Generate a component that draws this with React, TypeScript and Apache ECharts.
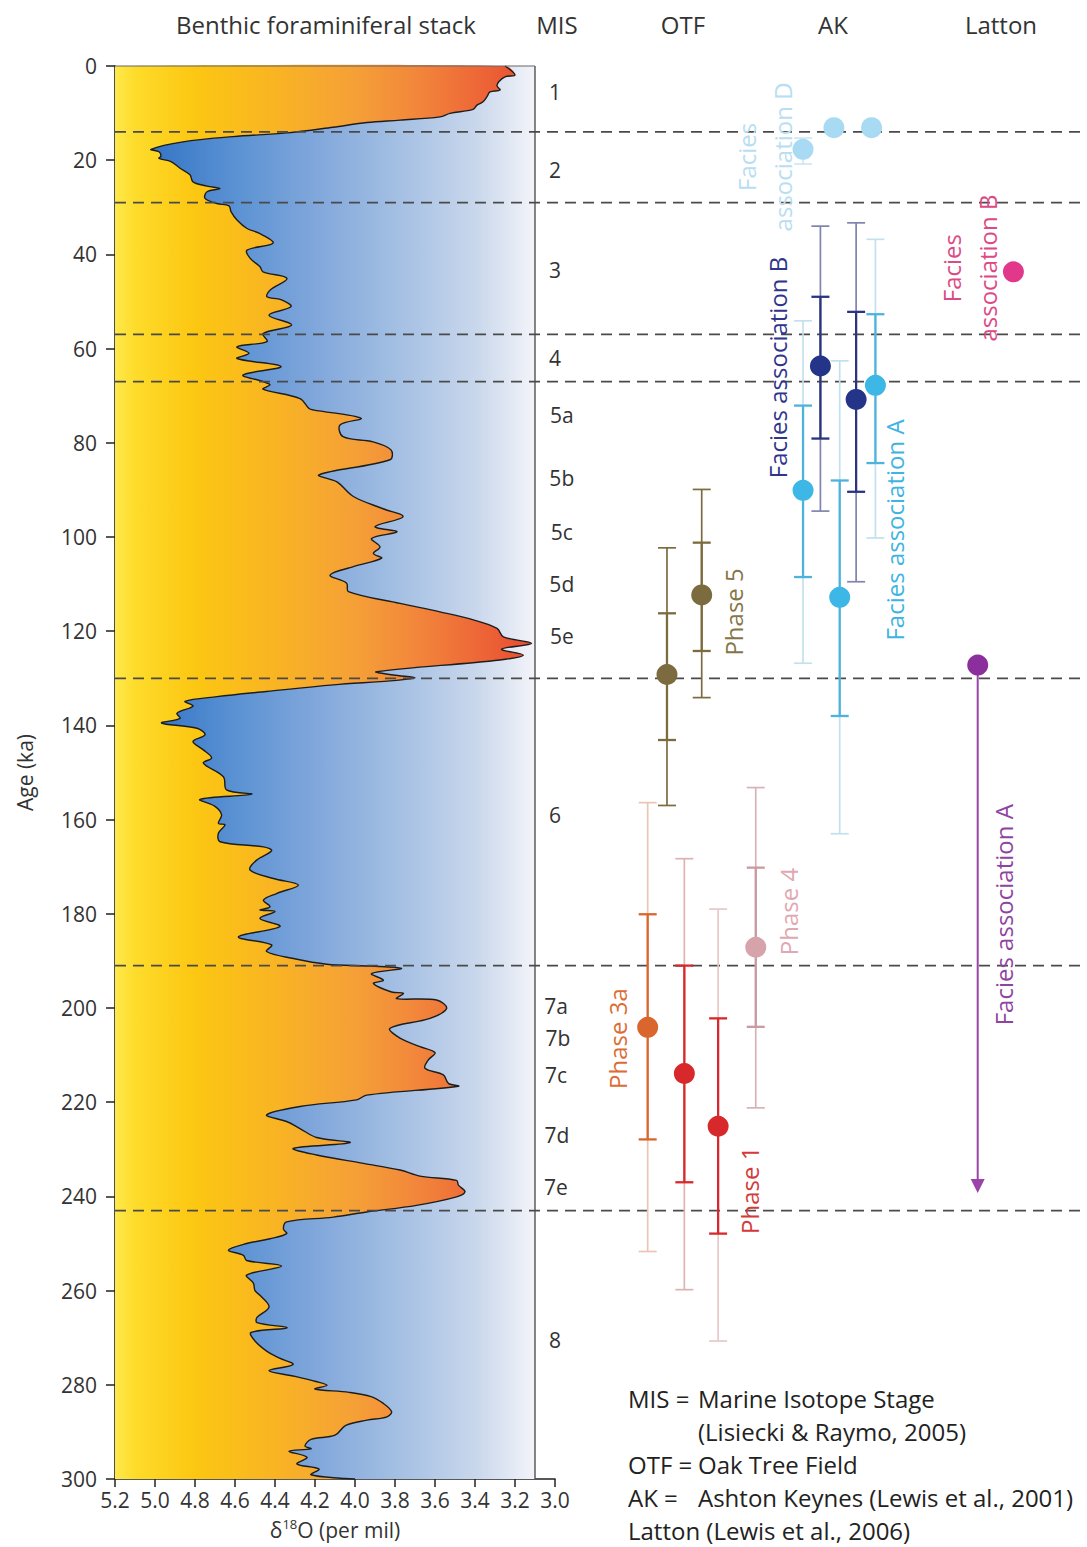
import React, { useEffect, useRef } from "react";
import * as echarts from "echarts";

const F = "'Open Sans', 'Noto Sans', 'DejaVu Sans', sans-serif";

// ---- Benthic foraminiferal stack (LR04 style), age in ka vs d18O ----
const curveAge = [0,1.9,2.3,3.3,4.2,5.1,5.5,6.5,7.6,8.3,9.2,10.05,10.8,11.5,12,13,14.2,15,16.1,17.7,18.2,19.1,19.6,20.3,21.7,23.1,24.6,25.5,26,26.7,28.1,29.2,29.7,30.9,32.7,34.5,35.5,37.6,39.1,40.8,42.6,43.7,45.1,47.6,49,49.6,51.1,52.9,55,56.8,58.5,59.6,61,62.1,63.8,65.6,67,67.7,68.6,70.6,72.7,73,74.8,76.2,78.7,79.8,81.5,83.6,86.8,88.3,91.4,94,95.7,97.8,98.9,100.3,102.1,103.5,104.5,106.3,108.1,109.8,111.6,114.1,115.9,117.6,119.4,121.2,122.6,123.8,125.1,126.1,128.6,129.3,129.9,130.5,131.4,132.8,133.9,134.9,135.9,137.4,138.5,139.5,140.6,142,143.4,145.2,146.9,148,150.9,153.7,154.6,155.7,157.2,159,160.8,161.1,162.9,164.7,165.8,166.6,168.6,170.7,172.5,173.9,175.7,177.1,178.5,179.2,179.5,181,182.7,184.9,186.6,188,189.5,190.7,191.1,191.6,192.7,194.1,194.8,196.6,196.9,198,198.3,200.1,202.2,204.3,206.4,208.2,209.5,211,212.8,214.2,216,216.6,218.5,219.5,220.9,222.7,224.1,225.6,227.5,228.6,229.8,231.2,233,234.4,235.7,236.6,237.6,239,240.1,241.9,243.3,244.4,245.4,246.9,247.9,249,250,251.4,252.5,253.6,254.8,256.7,258.4,260,261.2,263.5,265.7,266.8,267.9,268.9,270.7,272.9,274.3,275.7,277,278.2,279.3,280.1,280.9,281.6,282.5,283.9,285.7,286.8,287.5,288.6,290.7,291.6,293,293.6,294.1,295.4,296.8,297.9,299.1,299.9,300];
const curveD18O = [3.25,3.2,3.25,3.28,3.29,3.275,3.325,3.34,3.36,3.39,3.41,3.525,3.575,3.775,3.94,4.11,4.34,4.61,4.86,5.02,4.98,4.97,4.98,4.92,4.875,4.825,4.81,4.74,4.675,4.74,4.75,4.69,4.63,4.62,4.59,4.54,4.48,4.41,4.54,4.525,4.475,4.46,4.34,4.425,4.44,4.37,4.32,4.43,4.317,4.46,4.44,4.59,4.53,4.59,4.37,4.56,4.46,4.425,4.46,4.275,4.23,4.21,3.97,4.075,4.06,3.91,3.82,3.825,4.18,4.09,4.008,3.86,3.76,3.9,3.79,3.917,3.875,3.908,3.867,4.008,4.125,4.042,4.033,3.775,3.575,3.408,3.29,3.258,3.117,3.267,3.158,3.275,3.892,3.808,3.7,3.808,4.108,4.442,4.69,4.85,4.81,4.89,4.875,4.967,4.79,4.75,4.81,4.758,4.717,4.758,4.658,4.642,4.517,4.775,4.7,4.667,4.683,4.65,4.683,4.675,4.458,4.417,4.492,4.525,4.408,4.283,4.392,4.458,4.425,4.475,4.4,4.475,4.375,4.583,4.417,4.442,4.308,4.142,3.925,3.767,3.917,3.858,3.908,3.817,3.758,3.792,3.592,3.542,3.625,3.825,3.775,3.675,3.6,3.633,3.65,3.558,3.533,3.483,3.942,3.992,4.275,4.442,4.342,4.275,4.192,4.025,4.308,4.192,3.958,3.775,3.675,3.492,3.483,3.45,3.492,3.692,3.942,4.108,4.342,4.358,4.342,4.425,4.542,4.633,4.558,4.542,4.367,4.542,4.508,4.5,4.47,4.43,4.49,4.49,4.34,4.52,4.5,4.44,4.38,4.31,4.43,4.3,4.196,4.14,4.2,4.03,3.92,3.86,3.817,3.84,3.94,4.046,4.1,4.22,4.25,4.22,4.33,4.24,4.29,4.18,4.22,4.05,4.0];

// ---- Marine isotope stages ----
const misBoundaryAges = [14, 29, 57, 67, 130, 191, 243];
const misStageLabels = ["1","2","3","4","5a","5b","5c","5d","5e","6","7a","7b","7c","7d","7e","8"];
const misStageAges = [5.5, 22, 43.3, 62, 74, 87.5, 99, 110, 121, 159, 199.5, 206.3, 214.2, 227, 238, 270.5];
const misStageLanes = [45.6,45.6,45.6,45.6,46.3,46.3,46.3,46.3,46.3,45.6,45.7,45.9,45.7,45.8,45.7,45.6];

// ---- Dated samples (lane = horizontal slot in the right-hand panel, 0-100) ----
// 0-5 OTF (Phase 5, Phase 5, Phase 3a, Phase 1 group, Phase 1, Phase 4)
// 6-13 AK (association B x2, association A x3, association D x3)
// 14-15 Latton (association B, association A)
const sampleLane = [57.2, 60.8, 55.2, 59.0, 62.5, 66.4, 73.1, 76.8, 78.8, 71.3, 75.1, 71.3, 74.5, 78.4, 93.1, 89.4];
const sampleAge = [129.2, 112.3, 204.1, 213.9, 225.1, 187.1, 63.7, 70.8, 67.8, 90.1, 112.8, 17.7, 13.1, 13.1, 43.7, 127.2];
const innerLow = [116.2, 101.2, 180.1, 191.0, 202.2, 170.2, 49.0, 52.2, 52.7, 72.1, 88.0, null, null, null, null, null];
const innerHigh = [143.1, 124.2, 227.9, 237.0, 247.9, 204.0, 79.1, 90.4, 84.3, 108.5, 138.0, null, null, null, null, null];
const outerLow = [102.3, 89.9, 156.4, 168.3, 179.0, 153.2, 34.0, 33.3, 36.8, 54.1, 62.6, 15.3, null, null, null, null];
const outerHigh = [157.0, 134.1, 251.7, 259.8, 270.7, 221.2, 94.5, 109.5, 100.2, 126.8, 163.0, 20.8, null, null, null, null];

// Latton association A: open-ended range (arrow)
const rangeLane = [89.4];
const rangeFrom = [127.2];
const rangeTo = [239.3];

// ---- Annotation labels (rotated) ----
const noteText = ["Phase 5", "Phase 3a", "Phase 4", "Phase 1", "Facies association B", "Facies association A", "Facies\nassociation D", "Facies\nassociation B", "Facies association A"];
const noteLane = [64.1, 52.1, 69.8, 65.8, 68.7, 80.8, 67.3, 88.5, 92.1];
const noteAge = [115.9, 206.5, 179.5, 238.7, 64.0, 98.5, 19.3, 42.9, 180.2];

// ---- Styles ----
const pointColor = ["#7b6b3e","#7b6b3e","#d9662c","#d7282b","#d7282b","#d6a3ab","#243489","#243489","#3db7e5","#3db7e5","#3db7e5","#a9daf3","#a9daf3","#a9daf3","#e2388b","#8b2f9c"];
const innerColor = ["#7b6b3e","#7b6b3e","#d9662c","#d7282b","#d7282b","#c99aa2","#2a3480","#2a3480","#4eb3dc","#4eb3dc","#4eb3dc","#cfe7f3","#cfe7f3","#cfe7f3","#e2388b","#8b2f9c"];
const outerColor = ["#7b6b3e","#7b6b3e","#ebc5b4","#dfb2b2","#e8c8c8","#d8b2b8","#7e84ad","#7e84ad","#c3e0ee","#c3e0ee","#c3e0ee","#cfe7f3","#cfe7f3","#cfe7f3","#e2388b","#8b2f9c"];
const noteColor = ["#857547","#dc6c34","#e0a8b2","#d43a3a","#2f348c","#3fb4e2","#b8def2","#dc4a86","#8f45a0"];

const warmStops = [
  { offset: 0, color: "#fee94a" },
  { offset: 0.05, color: "#fedb2a" },
  { offset: 0.19, color: "#fcc712" },
  { offset: 0.38, color: "#f9b423" },
  { offset: 0.57, color: "#f5a037" },
  { offset: 0.71, color: "#f2883b" },
  { offset: 0.86, color: "#ee6837" },
  { offset: 1, color: "#e74a2f" },
];
const coolStops = [
  { offset: 0, color: "#2f6fc2" },
  { offset: 0.1, color: "#3777c7" },
  { offset: 0.29, color: "#5b92d3" },
  { offset: 0.48, color: "#81a7db" },
  { offset: 0.67, color: "#a3bfe3" },
  { offset: 0.86, color: "#c9d7ec" },
  { offset: 1, color: "#f3f4f9" },
];

const columnTitles = ["Benthic foraminiferal stack", "MIS", "OTF", "AK", "Latton"];
const columnTitleX = [326, 557, 683, 833, 1001];

const SMOOTH = 0.35;

function buildBars(lows: any[], highs: any[], colors: string[], width: number, z: number) {
  const data: number[][] = [];
  sampleLane.forEach((l, i) => {
    if (lows[i] != null && highs[i] != null) data.push([l, lows[i], highs[i], i]);
  });
  return {
    type: "custom",
    xAxisIndex: 1,
    yAxisIndex: 1,
    z,
    silent: true,
    data,
    renderItem: (params: any, api: any) => {
      const lane = api.value(0);
      const lo = api.value(1);
      const hi = api.value(2);
      const idx = api.value(3);
      const p1 = api.coord([lane, lo]);
      const p2 = api.coord([lane, hi]);
      const c = 9;
      const st = { stroke: colors[idx], lineWidth: width };
      return {
        type: "group",
        children: [
          { type: "line", shape: { x1: p1[0], y1: p1[1], x2: p2[0], y2: p2[1] }, style: st },
          { type: "line", shape: { x1: p1[0] - c, y1: p1[1], x2: p1[0] + c, y2: p1[1] }, style: st },
          { type: "line", shape: { x1: p2[0] - c, y1: p2[1], x2: p2[0] + c, y2: p2[1] }, style: st },
        ],
      };
    },
  };
}

export default function App() {
  const ref = useRef<HTMLDivElement>(null);
  useEffect(() => {
    document.body.style.margin = "0";
    if (!ref.current) return;
    const chart = echarts.init(ref.current, undefined, { renderer: "svg" });

    const option: any = {
      animation: false,
      backgroundColor: "#ffffff",
      textStyle: { fontFamily: F },
      grid: [
        { left: 115, right: 532, top: 66, bottom: 68 },
        { left: 115, right: 7, top: 66, bottom: 68 },
      ],
      xAxis: [
        {
          gridIndex: 0,
          type: "value",
          min: 3.0,
          max: 5.2,
          interval: 0.2,
          inverse: true,
          axisLine: { show: true, onZero: false, lineStyle: { color: "#222", width: 1.6 } },
          axisTick: { show: true, length: 8, lineStyle: { color: "#222", width: 1.5 } },
          axisLabel: { fontSize: 21, color: "#333", margin: 10, fontFamily: F, formatter: (v: number) => v.toFixed(1) },
          splitLine: { show: false },
          name: "{n|δ}{s|18}{n|O (per mil)}",
          nameLocation: "middle",
          nameGap: 38,
          nameTextStyle: {
            rich: {
              n: { fontSize: 21, color: "#333", fontFamily: F, lineHeight: 26 },
              s: { fontSize: 13, color: "#333", fontFamily: F, verticalAlign: "top", lineHeight: 16 },
            },
          },
        },
        { gridIndex: 1, type: "value", min: 0, max: 100, show: false },
      ],
      yAxis: [
        {
          gridIndex: 0,
          type: "value",
          min: 0,
          max: 300,
          interval: 20,
          inverse: true,
          axisLine: { show: true, onZero: false, lineStyle: { color: "#222", width: 1.6 } },
          axisTick: { show: true, length: 9, lineStyle: { color: "#222", width: 1.5 } },
          axisLabel: { fontSize: 21, color: "#333", margin: 18, fontFamily: F },
          splitLine: { show: false },
          name: "Age (ka)",
          nameLocation: "middle",
          nameRotate: 90,
          nameGap: 80,
          nameTextStyle: { fontSize: 21, color: "#333", fontFamily: F },
        },
        { gridIndex: 1, type: "value", min: 0, max: 300, inverse: true, show: false },
      ],
      graphic: [
        ...columnTitles.map((t, i) => ({
          type: "text",
          x: columnTitleX[i],
          y: 24,
          style: { text: t, fill: "#333", fontSize: 24, fontFamily: F, align: "center", verticalAlign: "middle" },
        })),
        ...[
          ["MIS =", 628, 1398],
          ["Marine Isotope Stage", 698, 1398],
          ["(Lisiecki & Raymo, 2005)", 698, 1431],
          ["OTF =", 628, 1464],
          ["Oak Tree Field", 698, 1464],
          ["AK =", 628, 1497],
          ["Ashton Keynes (Lewis et al., 2001)", 698, 1497],
          ["Latton (Lewis et al., 2006)", 628, 1530],
        ].map((r: any) => ({
          type: "text",
          x: r[1],
          y: r[2],
          style: { text: r[0], fill: "#222", fontSize: 24, fontFamily: F, align: "left", verticalAlign: "middle" },
        })),
      ],
      series: [
        // stack fill + curve
        {
          type: "custom",
          xAxisIndex: 0,
          yAxisIndex: 0,
          z: 1,
          silent: true,
          data: [[4.2, 150]],
          renderItem: (params: any, api: any) => {
            const pts = curveAge.map((a, i) => api.coord([curveD18O[i], a]));
            const tl = api.coord([5.2, 0]);
            const bl = api.coord([5.2, 300]);
            const tr = api.coord([3.1, 0]);
            const br = api.coord([3.1, 300]);
            const warm = new echarts.graphic.LinearGradient(tl[0], 0, tr[0], 0, warmStops, true);
            const cool = new echarts.graphic.LinearGradient(tl[0], 0, tr[0], 0, coolStops, true);
            return {
              type: "group",
              children: [
                { type: "polygon", shape: { points: [tl, tr, br, bl] }, style: { fill: cool } },
                { type: "polyline", shape: { points: [tl, ...pts, bl], smooth: SMOOTH }, style: { fill: warm, stroke: null } },
                { type: "polyline", shape: { points: pts, smooth: SMOOTH }, style: { stroke: "#1d1d1d", lineWidth: 1.4, fill: null } },
                { type: "line", shape: { x1: tr[0], y1: tr[1], x2: br[0], y2: br[1] }, style: { stroke: "#444", lineWidth: 1.3 } },
                { type: "line", shape: { x1: tl[0], y1: tl[1], x2: tr[0], y2: tr[1] }, style: { stroke: "#666", lineWidth: 1 } },
              ],
            };
          },
        },
        // MIS boundaries (dashed)
        {
          type: "custom",
          xAxisIndex: 1,
          yAxisIndex: 1,
          z: 4,
          silent: true,
          data: misBoundaryAges.map((a) => [0, a]),
          renderItem: (params: any, api: any) => {
            const a = api.value(1);
            const p1 = api.coord([0, a]);
            const p2 = api.coord([100, a]);
            return {
              type: "line",
              shape: { x1: p1[0], y1: p1[1], x2: p2[0], y2: p2[1] },
              style: { stroke: "#4a4a4a", lineWidth: 1.7, lineDash: [11, 7] },
            };
          },
        },
        // outer and inner error bars
        buildBars(outerLow, outerHigh, outerColor, 1.7, 5),
        buildBars(innerLow, innerHigh, innerColor, 2.3, 6),
        // Latton open range with arrow
        {
          type: "custom",
          xAxisIndex: 1,
          yAxisIndex: 1,
          z: 5,
          silent: true,
          data: rangeLane.map((l, i) => [l, rangeFrom[i], rangeTo[i]]),
          renderItem: (params: any, api: any) => {
            const p1 = api.coord([api.value(0), api.value(1)]);
            const p2 = api.coord([api.value(0), api.value(2)]);
            const col = "#9a44aa";
            return {
              type: "group",
              children: [
                { type: "line", shape: { x1: p1[0], y1: p1[1], x2: p2[0], y2: p2[1] - 8 }, style: { stroke: col, lineWidth: 2 } },
                {
                  type: "polygon",
                  shape: { points: [[p2[0] - 7, p2[1] - 14], [p2[0] + 7, p2[1] - 14], [p2[0], p2[1]]] },
                  style: { fill: col },
                },
              ],
            };
          },
        },
        // sample points
        {
          type: "scatter",
          xAxisIndex: 1,
          yAxisIndex: 1,
          z: 7,
          silent: true,
          symbol: "circle",
          symbolSize: 21,
          data: sampleLane.map((l, i) => ({ value: [l, sampleAge[i]], itemStyle: { color: pointColor[i], opacity: 1 } })),
        },
        // MIS stage labels
        {
          type: "custom",
          xAxisIndex: 1,
          yAxisIndex: 1,
          z: 8,
          silent: true,
          data: misStageLanes.map((l, i) => [l, misStageAges[i]]),
          renderItem: (params: any, api: any) => {
            const p = api.coord([api.value(0), api.value(1)]);
            return {
              type: "text",
              x: p[0],
              y: p[1],
              style: { text: misStageLabels[params.dataIndex], fill: "#333", fontSize: 21, lineHeight: 21, fontFamily: F, align: "center", verticalAlign: "middle" },
            };
          },
        },
        // rotated annotations
        {
          type: "custom",
          xAxisIndex: 1,
          yAxisIndex: 1,
          z: 8,
          silent: true,
          data: noteLane.map((l, i) => [l, noteAge[i]]),
          renderItem: (params: any, api: any) => {
            const i = params.dataIndex;
            const p = api.coord([api.value(0), api.value(1)]);
            return {
              type: "text",
              x: p[0],
              y: p[1],
              rotation: Math.PI / 2,
              style: {
                text: noteText[i],
                fill: noteColor[i],
                fontSize: 24,
                lineHeight: 36,
                fontFamily: F,
                align: "center",
                verticalAlign: "middle",
              },
            };
          },
        },
      ],
    };

    chart.setOption(option);
    return () => chart.dispose();
  }, []);

  return <div ref={ref} style={{ width: 1087, height: 1547 }} />;
}
